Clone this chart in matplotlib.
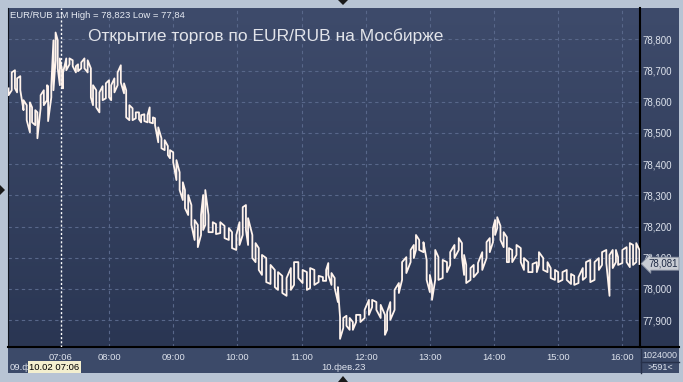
import numpy as np
import matplotlib
matplotlib.use("Agg")
import matplotlib.pyplot as plt
import matplotlib.transforms as mtransforms
from matplotlib.colors import LinearSegmentedColormap
from matplotlib.patches import Rectangle, Polygon
from matplotlib.lines import Line2D

plt.rcParams['font.family'] = ['Liberation Sans', 'DejaVu Sans']

# 1-minute bars (index), highs and lows
bar_idx = [0, 3, 6, 8, 11, 14, 17, 20, 22, 25, 27, 30, 33, 36, 37, 40, 42, 44, 46, 48,
           50, 51, 54, 57, 60, 63, 65, 68, 71, 74, 77, 79, 82, 85, 88, 91, 94, 96, 99, 102,
           105, 108, 110, 113, 116, 119, 122, 124, 127, 130, 132, 135, 137, 140, 143, 146, 149, 151, 154, 157,
           160, 163, 165, 168, 171, 174, 177, 180, 182, 184, 187, 191, 194, 198, 202, 206, 209, 213, 216, 219,
           222, 224, 228, 231, 234, 237, 241, 245, 249, 252, 256, 260, 264, 267, 271, 275, 279, 282, 286, 290,
           294, 297, 299, 302, 305, 308, 310, 313, 316, 319, 322, 325, 329, 333, 337, 340, 344, 348, 352, 354,
           357, 361, 365, 368, 372, 376, 379, 381, 384, 388, 391, 394, 396, 399, 402, 406, 410, 413, 417, 421,
           424, 426, 428, 432, 435, 439, 443, 447, 450, 453, 455, 457, 460, 463, 466, 468, 471, 475, 479, 482,
           486, 490, 494, 496, 500, 504, 507, 511, 514, 518, 522, 526, 529, 533, 537, 540, 544, 548, 552, 555,
           559, 562, 565, 568, 570, 574, 578, 581, 584, 587, 590]
high = [78.643, 78.694, 78.701, 78.675, 78.682, 78.605, 78.589, 78.598, 78.582, 78.573, 78.566, 78.621, 78.637, 78.653, 78.650, 78.650, 78.797, 78.822, 78.797, 78.739,
        78.701, 78.694, 78.739, 78.739, 78.733, 78.714, 78.720, 78.726, 78.739, 78.733, 78.707, 78.653, 78.637, 78.630, 78.650, 78.659, 78.669, 78.653, 78.675, 78.694,
        78.717, 78.659, 78.637, 78.589, 78.579, 78.566, 78.566, 78.557, 78.560, 78.557, 78.582, 78.550, 78.547, 78.518, 78.483, 78.477, 78.458, 78.445, 78.438, 78.413,
        78.374, 78.342, 78.317, 78.301, 78.269, 78.221, 78.205, 78.237, 78.301, 78.317, 78.237, 78.214, 78.208, 78.214, 78.202, 78.195, 78.182, 78.173, 78.214, 78.262,
        78.269, 78.227, 78.173, 78.147, 78.131, 78.109, 78.099, 78.077, 78.061, 78.054, 78.042, 78.035, 78.067, 78.086, 78.086, 78.061, 78.054, 78.067, 78.061, 78.042,
        78.038, 78.061, 78.083, 78.051, 78.035, 78.006, 77.910, 77.907, 77.914, 77.907, 77.894, 77.917, 77.917, 77.933, 77.965, 77.965, 77.958, 77.949, 77.917, 77.926,
        77.958, 77.997, 78.019, 78.086, 78.102, 78.125, 78.141, 78.173, 78.157, 78.150, 78.093, 78.045, 78.013, 78.125, 78.102, 78.093, 78.086, 78.118, 78.141, 78.163,
        78.147, 78.109, 78.077, 78.067, 78.077, 78.083, 78.118, 78.150, 78.163, 78.195, 78.221, 78.230, 78.202, 78.182, 78.166, 78.131, 78.125, 78.141, 78.131, 78.099,
        78.086, 78.080, 78.086, 78.118, 78.099, 78.086, 78.067, 78.061, 78.054, 78.054, 78.061, 78.048, 78.042, 78.038, 78.067, 78.086, 78.093, 78.086, 78.099, 78.118,
        78.125, 78.109, 78.125, 78.125, 78.102, 78.125, 78.134, 78.147, 78.141, 78.147, 78.125]
low = [78.621, 78.637, 78.643, 78.630, 78.637, 78.573, 78.541, 78.502, 78.534, 78.525, 78.483, 78.579, 78.589, 78.605, 78.538, 78.614, 78.637, 78.733, 78.707, 78.653,
       78.650, 78.643, 78.701, 78.720, 78.714, 78.694, 78.698, 78.707, 78.707, 78.694, 78.614, 78.589, 78.582, 78.566, 78.605, 78.611, 78.614, 78.605, 78.630, 78.653,
       78.662, 78.627, 78.550, 78.541, 78.541, 78.547, 78.544, 78.534, 78.538, 78.534, 78.534, 78.531, 78.525, 78.470, 78.451, 78.445, 78.429, 78.419, 78.406, 78.349,
       78.317, 78.285, 78.259, 78.237, 78.205, 78.157, 78.134, 78.173, 78.189, 78.205, 78.182, 78.182, 78.176, 78.179, 78.163, 78.157, 78.131, 78.125, 78.141, 78.173,
       78.189, 78.141, 78.099, 78.086, 78.061, 78.045, 78.022, 78.016, 78.006, 77.997, 77.987, 77.978, 77.997, 78.013, 78.035, 78.019, 77.997, 78.003, 78.013, 78.022,
       78.026, 78.026, 78.045, 78.013, 78.003, 77.958, 77.840, 77.875, 77.882, 77.869, 77.869, 77.894, 77.894, 77.907, 77.917, 77.942, 77.933, 77.907, 77.853, 77.869,
       77.901, 77.933, 77.987, 78.029, 78.051, 78.086, 78.099, 78.125, 78.125, 78.118, 78.029, 77.990, 77.965, 78.029, 78.029, 78.035, 78.054, 78.077, 78.099, 78.125,
       78.102, 78.045, 78.019, 78.029, 78.038, 78.054, 78.061, 78.099, 78.118, 78.150, 78.173, 78.195, 78.157, 78.134, 78.086, 78.086, 78.086, 78.109, 78.086, 78.061,
       78.054, 78.054, 78.054, 78.077, 78.061, 78.054, 78.035, 78.029, 78.022, 78.029, 78.029, 78.016, 78.013, 78.019, 78.029, 78.038, 78.022, 78.029, 78.061, 78.077,
       78.083, 77.978, 78.067, 78.086, 78.077, 78.083, 78.086, 78.070, 78.077, 78.086, 78.080]
last_price = 78.081

time_ticks = [49, 94, 154, 214, 274, 334, 394, 454, 514, 574]
time_labels = ['07:06', '08:00', '09:00', '10:00', '11:00', '12:00', '13:00', '14:00', '15:00', '16:00']
price_ticks = [77.9, 78.0, 78.1, 78.2, 78.3, 78.4, 78.5, 78.6, 78.7, 78.8]

W, H = 683, 382
def fx(px):
    return px / W
def fy(py):
    return 1 - py / H

fig = plt.figure(figsize=(6.83, 3.82), dpi=100, facecolor='#b8c4d4')

# panel background (gradient)
bg = fig.add_axes([fx(8), fy(347), fx(679) - fx(8), fy(8) - fy(347)])
grad = np.linspace(0, 1, 256).reshape(-1, 1)
cmap = LinearSegmentedColormap.from_list('bg', ['#3e4b6b', '#2a3653'])
bg.imshow(grad, aspect='auto', cmap=cmap, extent=[0, 1, 0, 1], origin='upper')
bg.axis('off')

# bottom time band
fig.add_artist(Rectangle((fx(8), fy(373)), fx(679) - fx(8), fy(347) - fy(373),
                         transform=fig.transFigure, fc='#3c4a69', ec='none', zorder=-1))

ax = fig.add_axes([fx(8), fy(347), fx(640) - fx(8), fy(8) - fy(347)])
ax.set_facecolor('none')
ax.set_xlim(-0.5, 590.5)
ax.set_ylim(77.814, 78.9005)

grid_col = '#58678a'
for p in price_ticks:
    ax.axhline(p, color=grid_col, lw=0.8, ls=(0, (3, 3)), zorder=1)
for t in time_ticks[1:]:
    ax.axvline(t, color=grid_col, lw=0.8, ls=(0, (3, 3)), zorder=1)
# cursor line
ax.axvline(time_ticks[0], color='white', lw=1.0, ls=(0, (1.5, 1.5)), zorder=3)

# bars drawn as a high/low zigzag
line_col = '#fff3ec'
xs, ys = [], []
for i, (b, h, l) in enumerate(zip(bar_idx, high, low)):
    xs += [b, b]
    ys += [h, l] if i % 2 == 0 else [l, h]
ax.plot(xs, ys, color=line_col, lw=1.3, zorder=4)

ax.spines['top'].set_visible(False)
ax.spines['left'].set_color('#10151f')
ax.spines['right'].set_color('black')
ax.spines['right'].set_linewidth(1.5)
ax.spines['bottom'].set_color('black')
ax.spines['bottom'].set_linewidth(1.5)

ax.yaxis.tick_right()
ax.set_yticks(price_ticks)
ax.set_yticklabels([f'{p:.3f}'.replace('.', ',') for p in price_ticks])
ax.tick_params(axis='y', length=0, pad=2, labelsize=7, labelcolor='#dde2ec')
ax.set_xticks(time_ticks)
ax.set_xticklabels(time_labels)
ax.tick_params(axis='x', length=0, pad=4, labelsize=6.8, labelcolor='#dde2ec')

# last price tag
trans = mtransforms.blended_transform_factory(ax.transAxes, ax.transData)
ax.text(1.0 + 8 / 632, last_price, f'{last_price:.3f}'.replace('.', ','), transform=trans,
        ha='left', va='center', fontsize=7, color='#1e2a44', clip_on=False, zorder=10,
        bbox=dict(boxstyle='larrow,pad=0.15', fc='#c8ccd4', ec='#8e96a6', lw=0.6))

# extra frame lines
fig.add_artist(Line2D([fx(640), fx(679)], [fy(347), fy(347)], color='black', lw=1.5,
                      transform=fig.transFigure))
fig.add_artist(Line2D([fx(641), fx(641)], [fy(349), fy(373)], color='#26304a', lw=1,
                      transform=fig.transFigure))
fig.add_artist(Line2D([fx(641), fx(679)], [fy(362), fy(362)], color='#26304a', lw=1,
                      transform=fig.transFigure))

# texts
fig.text(fx(10), fy(16), 'EUR/RUB 1M High = 78,823 Low = 77,84', fontsize=6.8,
         color='#e6eaf2', va='center', ha='left')
fig.text(fx(88), fy(36), 'Открытие торгов по EUR/RUB на Мосбирже', fontsize=12.5,
         color='#e2e4ea', va='center', ha='left')
fig.text(fx(343), fy(367), '10.фев.23', fontsize=6.8, color='#dde2ec', va='center', ha='center')
fig.text(fx(10), fy(367), '09.ф', fontsize=6.8, color='#dde2ec', va='center', ha='left')
fig.text(fx(29), fy(367), '10.02 07:06', fontsize=6.8, color='black', va='center', ha='left',
         bbox=dict(boxstyle='square,pad=0.15', fc='#f3efcf', ec='none'))
fig.text(fx(660), fy(356), '1024000', fontsize=6.5, color='#dde2ec', va='center', ha='center')
fig.text(fx(660), fy(368), '>591<', fontsize=6.5, color='#dde2ec', va='center', ha='center')

# small navigation triangles
for pts in [[(338, 0), (348, 0), (343, 5)],
            [(338, 382), (348, 382), (343, 376)],
            [(0, 185), (0, 195), (5, 190)]]:
    fig.add_artist(Polygon([(fx(a), fy(b)) for a, b in pts], closed=True,
                           transform=fig.transFigure, fc='#1a1a1a', ec='none'))

fig.savefig('out.png', dpi=100, facecolor=fig.get_facecolor())
